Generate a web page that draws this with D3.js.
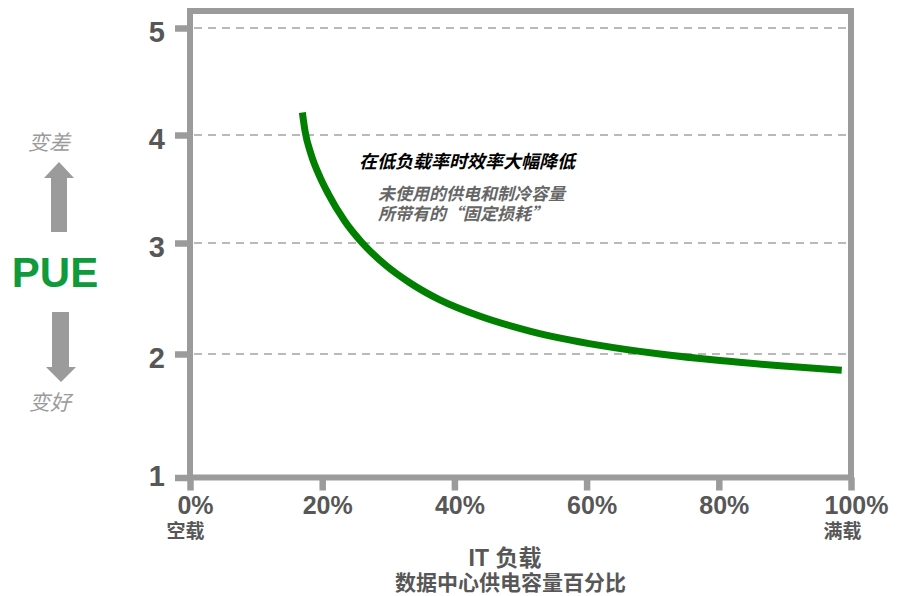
<!DOCTYPE html>
<html>
<head>
<meta charset="utf-8">
<script src="https://cdn.jsdelivr.net/npm/d3@7"></script>
<style>
  body { margin: 0; background: #fff; }
  svg { display: block; }
  text { font-family: "Liberation Sans", Arial, "Noto Sans CJK SC", sans-serif; }
  text.cjk { font-family: "Noto Sans CJK SC", "Liberation Sans", sans-serif; }
</style>
</head>
<body>
<svg id="chart" width="900" height="596"></svg>
<script>
// IT load (% of data-center power capacity) and the resulting PUE
const itLoad = [17.0, 17.4, 18.3, 19.7, 20.9, 23.4, 26.0, 29.5, 33.3, 37.8, 43.9, 51.4, 62.0, 71.1, 80.2, 89.3, 98.6];
const pueValues = [4.21, 4.037, 3.824, 3.606, 3.458, 3.204, 3.005, 2.805, 2.64, 2.488, 2.34, 2.207, 2.078, 2.00, 1.947, 1.905, 1.868];

const xTicks = [0, 20, 40, 60, 80, 100];
const yTicks = [1, 2, 3, 4, 5];
const gridLevels = [2, 3, 4, 5];

const svg = d3.select("#chart");

const frameLeft = 190, frameRight = 851, frameTop = 11;
const x = d3.scaleLinear().domain([0, 100]).range([frameLeft, frameRight]);
// the printed PUE axis is not evenly spaced, so map each level separately
const y = d3.scaleLinear().domain(yTicks).range([477.5, 354, 243, 135, 28]);
const frameBottom = y(1);

const frameColor = "#9b9b9b";
const labelColor = "#575757";

// dashed horizontal guides
svg.append("g").selectAll("line").data(gridLevels).join("line")
  .attr("x1", frameLeft + 4).attr("x2", frameRight - 4)
  .attr("y1", d => y(d)).attr("y2", d => y(d))
  .attr("stroke", "#b9b9b9").attr("stroke-width", 2)
  .attr("stroke-dasharray", "8 6");

// y axis
const yAxis = svg.append("g")
  .attr("transform", `translate(${frameLeft},0)`)
  .call(d3.axisLeft(y).tickValues(yTicks).tickSize(15).tickFormat(d => d));
yAxis.select(".domain").remove();
yAxis.selectAll(".tick line").attr("stroke", frameColor).attr("stroke-width", 6.5);
yAxis.selectAll(".tick text")
  .attr("x", -25).attr("dy", d => d === 1 ? 7.5 : 13.5)
  .attr("fill", labelColor)
  .style("font-size", "29px").style("font-weight", "bold")
  .attr("text-anchor", "end");

// x axis
const xAxis = svg.append("g")
  .attr("transform", `translate(0,${frameBottom})`)
  .call(d3.axisBottom(x).tickValues(xTicks).tickSize(13).tickFormat(d => d + "%"));
xAxis.select(".domain").remove();
xAxis.selectAll(".tick line").attr("stroke", frameColor).attr("stroke-width", 6.5);
xAxis.selectAll(".tick text")
  .attr("x", 5).attr("y", 36.5).attr("dy", 0)
  .attr("fill", labelColor)
  .style("font-size", "25px").style("font-weight", "bold")
  .attr("text-anchor", "middle");

// plot frame
svg.append("rect")
  .attr("x", frameLeft).attr("y", frameTop)
  .attr("width", frameRight - frameLeft).attr("height", frameBottom - frameTop)
  .attr("fill", "none").attr("stroke", frameColor).attr("stroke-width", 6);

// PUE curve
const points = itLoad.map((v, i) => [v, pueValues[i]]);
const line = d3.line().x(d => x(d[0])).y(d => y(d[1])).curve(d3.curveMonotoneX);
svg.append("path")
  .datum(points)
  .attr("d", line)
  .attr("fill", "none")
  .attr("stroke", "#007f00")
  .attr("stroke-width", 7);

// annotation
svg.append("text").attr("class", "cjk")
  .attr("x", 359).attr("y", 168)
  .style("font-size", "18px").style("font-weight", "bold").style("font-style", "italic")
  .attr("fill", "#000")
  .text("在低负载率时效率大幅降低");
svg.append("text").attr("class", "cjk")
  .attr("x", 378).attr("y", 200)
  .style("font-size", "17px").style("font-weight", "bold").style("font-style", "italic")
  .attr("fill", "#666")
  .text("未使用的供电和制冷容量");
svg.append("text").attr("class", "cjk")
  .attr("x", 378).attr("y", 220)
  .style("font-size", "17px").style("font-weight", "bold").style("font-style", "italic")
  .attr("fill", "#666")
  .text("所带有的“固定损耗”");

// left-hand PUE indicator
const arrowColor = "#9b9b9b";
svg.append("text").attr("class", "cjk")
  .attr("x", 49).attr("y", 150).attr("text-anchor", "middle")
  .style("font-size", "21px").style("font-style", "italic")
  .attr("fill", arrowColor)
  .text("变差");
svg.append("path")
  .attr("d", "M59,162 L74,178 L67,178 L67,232 L51,232 L51,178 L44,178 Z")
  .attr("fill", arrowColor);
svg.append("text")
  .attr("x", 55).attr("y", 287).attr("text-anchor", "middle")
  .style("font-size", "42px").style("font-weight", "bold")
  .attr("fill", "#0f9a3c")
  .text("PUE");
svg.append("path")
  .attr("d", "M52,312 L69,312 L69,367 L76,367 L61,382 L46,367 L52,367 Z")
  .attr("fill", arrowColor);
svg.append("text").attr("class", "cjk")
  .attr("x", 50).attr("y", 410).attr("text-anchor", "middle")
  .style("font-size", "21px").style("font-style", "italic")
  .attr("fill", arrowColor)
  .text("变好");

// x-axis end captions and title
svg.append("text").attr("class", "cjk")
  .attr("x", 185.5).attr("y", 538).attr("text-anchor", "middle")
  .style("font-size", "19px").style("font-weight", "bold")
  .attr("fill", labelColor).text("空载");
svg.append("text").attr("class", "cjk")
  .attr("x", 842.5).attr("y", 538).attr("text-anchor", "middle")
  .style("font-size", "19px").style("font-weight", "bold")
  .attr("fill", labelColor).text("满载");
svg.append("text")
  .attr("x", 505).attr("y", 566).attr("text-anchor", "middle")
  .style("font-size", "23px").style("font-weight", "bold")
  .attr("fill", labelColor).text("IT 负载");
svg.append("text").attr("class", "cjk")
  .attr("x", 510.5).attr("y", 590).attr("text-anchor", "middle")
  .style("font-size", "21px").style("font-weight", "bold")
  .attr("fill", labelColor).text("数据中心供电容量百分比");
</script>
</body>
</html>
